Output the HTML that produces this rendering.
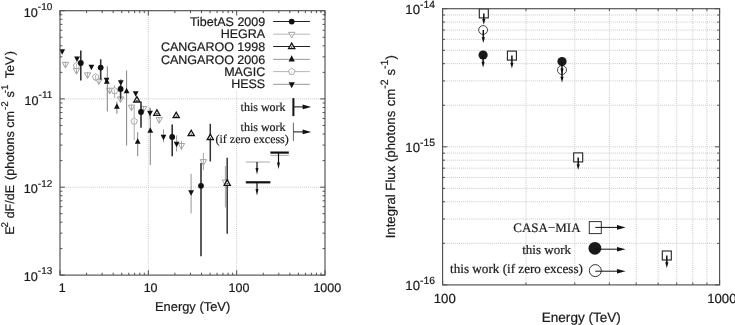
<!DOCTYPE html>
<html><head><meta charset="utf-8"><title>Flux plots</title>
<style>
html,body{margin:0;padding:0;background:#fff;}
body{width:735px;height:325px;overflow:hidden;}
svg{display:block;}
text{text-rendering:geometricPrecision;stroke:#1a1a1a;stroke-width:0.2px;}
</style></head><body>
<svg width="735" height="325" viewBox="0 0 735 325">
<rect x="0" y="0" width="735" height="325" fill="#fff"/>
<line x1="148.33" y1="10.70" x2="148.33" y2="275.10" stroke="#c8c8c8" stroke-width="1" stroke-dasharray="1 1.05"/>
<line x1="60.00" y1="98.90" x2="325.00" y2="98.90" stroke="#c8c8c8" stroke-width="1" stroke-dasharray="1 1.05"/>
<line x1="236.67" y1="10.70" x2="236.67" y2="275.10" stroke="#c8c8c8" stroke-width="1" stroke-dasharray="1 1.05"/>
<line x1="60.00" y1="187.20" x2="325.00" y2="187.20" stroke="#c8c8c8" stroke-width="1" stroke-dasharray="1 1.05"/>
<line x1="525.99" y1="8.70" x2="525.99" y2="284.90" stroke="#c8c8c8" stroke-width="1" stroke-dasharray="1 1.05"/>
<line x1="574.76" y1="8.70" x2="574.76" y2="284.90" stroke="#c8c8c8" stroke-width="1" stroke-dasharray="1 1.05"/>
<line x1="609.37" y1="8.70" x2="609.37" y2="284.90" stroke="#c8c8c8" stroke-width="1" stroke-dasharray="1 1.05"/>
<line x1="636.21" y1="8.70" x2="636.21" y2="284.90" stroke="#c8c8c8" stroke-width="1" stroke-dasharray="1 1.05"/>
<line x1="658.15" y1="8.70" x2="658.15" y2="284.90" stroke="#c8c8c8" stroke-width="1" stroke-dasharray="1 1.05"/>
<line x1="676.69" y1="8.70" x2="676.69" y2="284.90" stroke="#c8c8c8" stroke-width="1" stroke-dasharray="1 1.05"/>
<line x1="692.76" y1="8.70" x2="692.76" y2="284.90" stroke="#c8c8c8" stroke-width="1" stroke-dasharray="1 1.05"/>
<line x1="706.93" y1="8.70" x2="706.93" y2="284.90" stroke="#c8c8c8" stroke-width="1" stroke-dasharray="1 1.05"/>
<line x1="442.60" y1="146.80" x2="719.60" y2="146.80" stroke="#c8c8c8" stroke-width="1" stroke-dasharray="1 1.05"/>
<line x1="442.60" y1="105.23" x2="719.60" y2="105.23" stroke="#c8c8c8" stroke-width="1" stroke-dasharray="1 1.05"/>
<line x1="442.60" y1="80.91" x2="719.60" y2="80.91" stroke="#c8c8c8" stroke-width="1" stroke-dasharray="1 1.05"/>
<line x1="442.60" y1="63.66" x2="719.60" y2="63.66" stroke="#c8c8c8" stroke-width="1" stroke-dasharray="1 1.05"/>
<line x1="442.60" y1="50.27" x2="719.60" y2="50.27" stroke="#c8c8c8" stroke-width="1" stroke-dasharray="1 1.05"/>
<line x1="442.60" y1="39.34" x2="719.60" y2="39.34" stroke="#c8c8c8" stroke-width="1" stroke-dasharray="1 1.05"/>
<line x1="442.60" y1="30.09" x2="719.60" y2="30.09" stroke="#c8c8c8" stroke-width="1" stroke-dasharray="1 1.05"/>
<line x1="442.60" y1="22.08" x2="719.60" y2="22.08" stroke="#c8c8c8" stroke-width="1" stroke-dasharray="1 1.05"/>
<line x1="442.60" y1="15.02" x2="719.60" y2="15.02" stroke="#c8c8c8" stroke-width="1" stroke-dasharray="1 1.05"/>
<line x1="442.60" y1="243.33" x2="719.60" y2="243.33" stroke="#c8c8c8" stroke-width="1" stroke-dasharray="1 1.05"/>
<line x1="442.60" y1="219.01" x2="719.60" y2="219.01" stroke="#c8c8c8" stroke-width="1" stroke-dasharray="1 1.05"/>
<line x1="442.60" y1="201.76" x2="719.60" y2="201.76" stroke="#c8c8c8" stroke-width="1" stroke-dasharray="1 1.05"/>
<line x1="442.60" y1="188.37" x2="719.60" y2="188.37" stroke="#c8c8c8" stroke-width="1" stroke-dasharray="1 1.05"/>
<line x1="442.60" y1="177.44" x2="719.60" y2="177.44" stroke="#c8c8c8" stroke-width="1" stroke-dasharray="1 1.05"/>
<line x1="442.60" y1="168.19" x2="719.60" y2="168.19" stroke="#c8c8c8" stroke-width="1" stroke-dasharray="1 1.05"/>
<line x1="442.60" y1="160.18" x2="719.60" y2="160.18" stroke="#c8c8c8" stroke-width="1" stroke-dasharray="1 1.05"/>
<line x1="442.60" y1="153.12" x2="719.60" y2="153.12" stroke="#c8c8c8" stroke-width="1" stroke-dasharray="1 1.05"/>
<rect x="168" y="11" width="156" height="79.8" fill="#fff"/>
<g>
<polygon points="62.30,62.33 68.70,62.33 65.50,67.93" fill="#fff" stroke="#9a9a9a" stroke-width="0.9" stroke-linejoin="miter"/>
<line x1="65.50" y1="61.80" x2="65.50" y2="67.40" stroke="#9a9a9a" stroke-width="0.8" />
<polygon points="73.30,68.53 79.70,68.53 76.50,74.13" fill="#fff" stroke="#9a9a9a" stroke-width="0.9" stroke-linejoin="miter"/>
<line x1="76.50" y1="68.00" x2="76.50" y2="73.60" stroke="#9a9a9a" stroke-width="0.8" />
<polygon points="84.40,72.83 90.80,72.83 87.60,78.43" fill="#fff" stroke="#9a9a9a" stroke-width="0.9" stroke-linejoin="miter"/>
<line x1="87.60" y1="72.30" x2="87.60" y2="77.90" stroke="#9a9a9a" stroke-width="0.8" />
<polygon points="95.70,78.93 102.10,78.93 98.90,84.53" fill="#fff" stroke="#9a9a9a" stroke-width="0.9" stroke-linejoin="miter"/>
<line x1="98.90" y1="78.40" x2="98.90" y2="84.00" stroke="#9a9a9a" stroke-width="0.8" />
<polygon points="106.50,88.23 112.90,88.23 109.70,93.83" fill="#fff" stroke="#9a9a9a" stroke-width="0.9" stroke-linejoin="miter"/>
<line x1="109.70" y1="87.70" x2="109.70" y2="93.30" stroke="#9a9a9a" stroke-width="0.8" />
<polygon points="117.30,96.93 123.70,96.93 120.50,102.53" fill="#fff" stroke="#9a9a9a" stroke-width="0.9" stroke-linejoin="miter"/>
<line x1="120.50" y1="96.40" x2="120.50" y2="102.00" stroke="#9a9a9a" stroke-width="0.8" />
<polygon points="128.30,105.13 134.70,105.13 131.50,110.73" fill="#fff" stroke="#9a9a9a" stroke-width="0.9" stroke-linejoin="miter"/>
<line x1="131.50" y1="104.60" x2="131.50" y2="110.20" stroke="#9a9a9a" stroke-width="0.8" />
<polygon points="140.40,106.43 146.80,106.43 143.60,112.03" fill="#fff" stroke="#9a9a9a" stroke-width="0.9" stroke-linejoin="miter"/>
<line x1="143.60" y1="105.90" x2="143.60" y2="111.50" stroke="#9a9a9a" stroke-width="0.8" />
<polygon points="156.00,117.63 162.40,117.63 159.20,123.23" fill="#fff" stroke="#9a9a9a" stroke-width="0.9" stroke-linejoin="miter"/>
<line x1="159.20" y1="117.10" x2="159.20" y2="122.70" stroke="#9a9a9a" stroke-width="0.8" />
<line x1="181.50" y1="140.80" x2="181.50" y2="150.00" stroke="#9a9a9a" stroke-width="0.9" />
<polygon points="178.30,143.53 184.70,143.53 181.50,149.13" fill="#fff" stroke="#9a9a9a" stroke-width="0.9" stroke-linejoin="miter"/>
<line x1="181.50" y1="143.00" x2="181.50" y2="148.60" stroke="#9a9a9a" stroke-width="0.8" />
<line x1="203.40" y1="153.00" x2="203.40" y2="170.00" stroke="#9a9a9a" stroke-width="0.9" />
<polygon points="200.20,159.63 206.60,159.63 203.40,165.23" fill="#fff" stroke="#9a9a9a" stroke-width="0.9" stroke-linejoin="miter"/>
<line x1="203.40" y1="159.10" x2="203.40" y2="164.70" stroke="#9a9a9a" stroke-width="0.8" />
<line x1="225.40" y1="166.00" x2="225.40" y2="207.40" stroke="#9a9a9a" stroke-width="0.9" />
<polygon points="222.20,179.93 228.60,179.93 225.40,185.53" fill="#fff" stroke="#9a9a9a" stroke-width="0.9" stroke-linejoin="miter"/>
<line x1="225.40" y1="179.40" x2="225.40" y2="185.00" stroke="#9a9a9a" stroke-width="0.8" />
<line x1="76.50" y1="62.50" x2="76.50" y2="69.00" stroke="#a0a0a0" stroke-width="0.9" />
<polygon points="76.50,62.40 79.73,64.75 78.50,68.55 74.50,68.55 73.27,64.75" fill="#fff" stroke="#a0a0a0" stroke-width="0.9"/>
<line x1="76.50" y1="63.80" x2="76.50" y2="67.80" stroke="#a0a0a0" stroke-width="0.7" />
<line x1="95.60" y1="74.00" x2="95.60" y2="81.00" stroke="#a0a0a0" stroke-width="0.9" />
<polygon points="95.60,73.60 98.83,75.95 97.60,79.75 93.60,79.75 92.37,75.95" fill="#fff" stroke="#a0a0a0" stroke-width="0.9"/>
<line x1="95.60" y1="75.00" x2="95.60" y2="79.00" stroke="#a0a0a0" stroke-width="0.7" />
<line x1="114.60" y1="85.20" x2="114.60" y2="98.00" stroke="#a0a0a0" stroke-width="0.9" />
<polygon points="114.60,87.40 117.83,89.75 116.60,93.55 112.60,93.55 111.37,89.75" fill="#fff" stroke="#a0a0a0" stroke-width="0.9"/>
<line x1="114.60" y1="88.80" x2="114.60" y2="92.80" stroke="#a0a0a0" stroke-width="0.7" />
<line x1="134.20" y1="107.00" x2="134.20" y2="140.00" stroke="#a0a0a0" stroke-width="0.9" />
<polygon points="134.20,117.80 137.43,120.15 136.20,123.95 132.20,123.95 130.97,120.15" fill="#fff" stroke="#a0a0a0" stroke-width="0.9"/>
<line x1="134.20" y1="119.20" x2="134.20" y2="123.20" stroke="#a0a0a0" stroke-width="0.7" />
<line x1="107.30" y1="66.30" x2="107.30" y2="111.50" stroke="#747474" stroke-width="0.9" />
<polygon points="103.90,83.83 109.70,83.83 106.80,78.33" fill="#111" stroke="none" stroke-width="1" stroke-linejoin="miter"/>
<line x1="126.60" y1="70.50" x2="126.60" y2="145.50" stroke="#747474" stroke-width="0.9" />
<polygon points="123.70,93.33 129.50,93.33 126.60,87.83" fill="#111" stroke="none" stroke-width="1" stroke-linejoin="miter"/>
<line x1="116.90" y1="101.50" x2="116.90" y2="113.80" stroke="#747474" stroke-width="0.9" />
<polygon points="114.00,108.63 119.80,108.63 116.90,103.13" fill="#111" stroke="none" stroke-width="1" stroke-linejoin="miter"/>
<line x1="137.70" y1="132.30" x2="137.70" y2="156.20" stroke="#747474" stroke-width="0.9" />
<polygon points="134.80,143.63 140.60,143.63 137.70,138.13" fill="#111" stroke="none" stroke-width="1" stroke-linejoin="miter"/>
<line x1="150.30" y1="108.00" x2="150.30" y2="165.00" stroke="#747474" stroke-width="0.9" />
<polygon points="147.40,132.63 153.20,132.63 150.30,127.13" fill="#111" stroke="none" stroke-width="1" stroke-linejoin="miter"/>
<polygon points="59.30,49.37 65.10,49.37 62.20,54.87" fill="#111" stroke="none" stroke-width="1" stroke-linejoin="miter"/>
<polygon points="74.10,56.57 79.90,56.57 77.00,62.07" fill="#111" stroke="none" stroke-width="1" stroke-linejoin="miter"/>
<polygon points="88.50,64.77 94.30,64.77 91.40,70.27" fill="#111" stroke="none" stroke-width="1" stroke-linejoin="miter"/>
<polygon points="103.70,77.67 109.50,77.67 106.60,83.17" fill="#111" stroke="none" stroke-width="1" stroke-linejoin="miter"/>
<line x1="120.80" y1="79.00" x2="120.80" y2="85.60" stroke="#8c8c8c" stroke-width="0.9" />
<polygon points="117.90,80.37 123.70,80.37 120.80,85.87" fill="#111" stroke="none" stroke-width="1" stroke-linejoin="miter"/>
<polygon points="132.80,91.17 138.60,91.17 135.70,96.67" fill="#111" stroke="none" stroke-width="1" stroke-linejoin="miter"/>
<line x1="150.00" y1="107.50" x2="150.00" y2="118.50" stroke="#8c8c8c" stroke-width="0.9" />
<polygon points="147.10,110.77 152.90,110.77 150.00,116.27" fill="#111" stroke="none" stroke-width="1" stroke-linejoin="miter"/>
<line x1="163.50" y1="129.20" x2="163.50" y2="142.30" stroke="#8c8c8c" stroke-width="0.9" />
<polygon points="160.60,134.77 166.40,134.77 163.50,140.27" fill="#111" stroke="none" stroke-width="1" stroke-linejoin="miter"/>
<line x1="176.60" y1="135.40" x2="176.60" y2="151.50" stroke="#8c8c8c" stroke-width="0.9" />
<polygon points="173.70,141.67 179.50,141.67 176.60,147.17" fill="#111" stroke="none" stroke-width="1" stroke-linejoin="miter"/>
<line x1="191.10" y1="173.80" x2="191.10" y2="213.50" stroke="#8c8c8c" stroke-width="0.9" />
<polygon points="188.20,190.17 194.00,190.17 191.10,195.67" fill="#111" stroke="none" stroke-width="1" stroke-linejoin="miter"/>
<polygon points="133.80,102.00 140.00,102.00 136.90,96.60" fill="#fff" stroke="#111" stroke-width="1.3" stroke-linejoin="miter"/>
<circle cx="136.90" cy="100.50" r="0.7" fill="#111" stroke="none" stroke-width="1"/>
<polygon points="153.80,115.30 160.00,115.30 156.90,109.90" fill="#fff" stroke="#111" stroke-width="1.3" stroke-linejoin="miter"/>
<circle cx="156.90" cy="113.80" r="0.7" fill="#111" stroke="none" stroke-width="1"/>
<polygon points="173.10,117.70 179.30,117.70 176.20,112.30" fill="#fff" stroke="#111" stroke-width="1.3" stroke-linejoin="miter"/>
<circle cx="176.20" cy="116.20" r="0.7" fill="#111" stroke="none" stroke-width="1"/>
<polygon points="188.10,135.60 194.30,135.60 191.20,130.20" fill="#fff" stroke="#111" stroke-width="1.3" stroke-linejoin="miter"/>
<circle cx="191.20" cy="134.10" r="0.7" fill="#111" stroke="none" stroke-width="1"/>
<line x1="210.30" y1="123.80" x2="210.30" y2="161.50" stroke="#333" stroke-width="1.5" />
<polygon points="207.20,139.70 213.40,139.70 210.30,134.30" fill="#fff" stroke="#111" stroke-width="1.3" stroke-linejoin="miter"/>
<circle cx="210.30" cy="138.20" r="0.7" fill="#111" stroke="none" stroke-width="1"/>
<line x1="227.20" y1="157.70" x2="227.20" y2="233.80" stroke="#333" stroke-width="1.5" />
<polygon points="224.10,185.30 230.30,185.30 227.20,179.90" fill="#fff" stroke="#111" stroke-width="1.3" stroke-linejoin="miter"/>
<circle cx="227.20" cy="183.80" r="0.7" fill="#111" stroke="none" stroke-width="1"/>
<line x1="80.80" y1="50.40" x2="80.80" y2="80.40" stroke="#333" stroke-width="1.6" />
<circle cx="80.80" cy="63.00" r="2.9" fill="#111" stroke="none" stroke-width="1"/>
<line x1="100.70" y1="59.30" x2="100.70" y2="79.70" stroke="#333" stroke-width="1.6" />
<circle cx="100.70" cy="67.60" r="2.9" fill="#111" stroke="none" stroke-width="1"/>
<line x1="120.60" y1="85.00" x2="120.60" y2="99.20" stroke="#333" stroke-width="1.6" />
<circle cx="120.60" cy="89.00" r="2.9" fill="#111" stroke="none" stroke-width="1"/>
<line x1="141.00" y1="101.50" x2="141.00" y2="127.70" stroke="#333" stroke-width="1.6" />
<circle cx="141.00" cy="112.00" r="2.9" fill="#111" stroke="none" stroke-width="1"/>
<line x1="172.20" y1="124.60" x2="172.20" y2="156.20" stroke="#333" stroke-width="1.6" />
<circle cx="172.20" cy="136.90" r="2.9" fill="#111" stroke="none" stroke-width="1"/>
<line x1="201.00" y1="163.00" x2="201.00" y2="256.20" stroke="#333" stroke-width="1.6" />
<circle cx="201.00" cy="185.80" r="2.9" fill="#111" stroke="none" stroke-width="1"/>
</g>
<line x1="270.40" y1="155.40" x2="288.80" y2="155.40" stroke="#aaa" stroke-width="1" />
<line x1="270.40" y1="152.60" x2="288.80" y2="152.60" stroke="#111" stroke-width="2.2" />
<line x1="278.50" y1="152.60" x2="278.50" y2="163.50" stroke="#111" stroke-width="1.2" />
<polygon points="277.00,162.50 280.00,162.50 278.50,169.00" fill="#111"/>
<line x1="245.80" y1="162.00" x2="270.00" y2="162.00" stroke="#aaa" stroke-width="1" />
<line x1="257.00" y1="162.00" x2="257.00" y2="169.10" stroke="#111" stroke-width="1.2" />
<polygon points="255.50,168.10 258.50,168.10 257.00,174.60" fill="#111"/>
<line x1="245.80" y1="182.30" x2="270.40" y2="182.30" stroke="#111" stroke-width="2.2" />
<line x1="257.00" y1="182.30" x2="257.00" y2="189.90" stroke="#111" stroke-width="1.2" />
<polygon points="255.50,188.90 258.50,188.90 257.00,195.40" fill="#111"/>
<text x="265.2" y="25.6" text-anchor="end" font-family='"Liberation Sans", Arial, Helvetica, sans-serif' font-size="12.5" fill="#1a1a1a">TibetAS 2009</text>
<text x="265.2" y="38.3" text-anchor="end" font-family='"Liberation Sans", Arial, Helvetica, sans-serif' font-size="12.5" fill="#1a1a1a">HEGRA</text>
<text x="265.2" y="50.6" text-anchor="end" font-family='"Liberation Sans", Arial, Helvetica, sans-serif' font-size="12.5" fill="#1a1a1a">CANGAROO 1998</text>
<text x="265.2" y="63.5" text-anchor="end" font-family='"Liberation Sans", Arial, Helvetica, sans-serif' font-size="12.5" fill="#1a1a1a">CANGAROO 2006</text>
<text x="265.2" y="75.7" text-anchor="end" font-family='"Liberation Sans", Arial, Helvetica, sans-serif' font-size="12.5" fill="#1a1a1a">MAGIC</text>
<text x="265.2" y="88.4" text-anchor="end" font-family='"Liberation Sans", Arial, Helvetica, sans-serif' font-size="12.5" fill="#1a1a1a">HESS</text>
<line x1="273.20" y1="21.55" x2="309.90" y2="21.55" stroke="#222" stroke-width="1.1" />
<circle cx="291.70" cy="21.55" r="2.9" fill="#111" stroke="none" stroke-width="1"/>
<line x1="273.20" y1="34.20" x2="309.90" y2="34.20" stroke="#b8b8b8" stroke-width="1" />
<polygon points="288.50,32.33 294.90,32.33 291.70,37.93" fill="#fff" stroke="#9a9a9a" stroke-width="0.9" stroke-linejoin="miter"/>
<circle cx="291.70" cy="34.50" r="0.6" fill="#9a9a9a" stroke="none" stroke-width="1"/>
<line x1="273.20" y1="46.45" x2="309.90" y2="46.45" stroke="#222" stroke-width="1.1" />
<polygon points="288.60,48.55 294.80,48.55 291.70,43.15" fill="#fff" stroke="#111" stroke-width="1.3" stroke-linejoin="miter"/>
<circle cx="291.70" cy="47.05" r="0.7" fill="#111" stroke="none" stroke-width="1"/>
<line x1="273.20" y1="59.35" x2="309.90" y2="59.35" stroke="#8a8a8a" stroke-width="0.9" />
<polygon points="288.60,61.38 294.80,61.38 291.70,55.28" fill="#111" stroke="none" stroke-width="1" stroke-linejoin="miter"/>
<line x1="273.20" y1="71.60" x2="309.90" y2="71.60" stroke="#b8b8b8" stroke-width="1" />
<polygon points="291.70,68.20 294.93,70.55 293.70,74.35 289.70,74.35 288.47,70.55" fill="#fff" stroke="#a0a0a0" stroke-width="0.9"/>
<circle cx="291.70" cy="72.00" r="0.6" fill="#a0a0a0" stroke="none" stroke-width="1"/>
<line x1="273.20" y1="84.30" x2="309.90" y2="84.30" stroke="#8a8a8a" stroke-width="0.9" />
<polygon points="288.60,82.27 294.80,82.27 291.70,88.37" fill="#111" stroke="none" stroke-width="1" stroke-linejoin="miter"/>
<text x="285.6" y="110.7" text-anchor="end" font-family='"Liberation Serif", "Times New Roman", serif' font-size="12" fill="#1a1a1a">this work</text>
<line x1="293.40" y1="98.20" x2="293.40" y2="116.10" stroke="#111" stroke-width="2" />
<line x1="293.40" y1="106.90" x2="303.60" y2="106.90" stroke="#111" stroke-width="1.0" />
<polygon points="302.60,104.60 302.60,109.20 311.20,106.90" fill="#111"/>
<text x="285.6" y="130.5" text-anchor="end" font-family='"Liberation Serif", "Times New Roman", serif' font-size="12" fill="#1a1a1a">this work</text>
<text x="288.8" y="142.8" text-anchor="end" font-family='"Liberation Serif", "Times New Roman", serif' font-size="12" fill="#1a1a1a">(if zero excess)</text>
<line x1="293.40" y1="122.70" x2="293.40" y2="141.00" stroke="#666" stroke-width="1" />
<line x1="293.40" y1="131.90" x2="303.60" y2="131.90" stroke="#111" stroke-width="1.0" />
<polygon points="302.60,129.60 302.60,134.20 311.20,131.90" fill="#111"/>
<rect x="479.30" y="8.90" width="9.0" height="9.0" fill="#fff" stroke="#222" stroke-width="1.1"/>
<line x1="483.80" y1="13.40" x2="483.80" y2="20.00" stroke="#111" stroke-width="1.5" />
<polygon points="482.20,19.00 485.40,19.00 483.80,24.80" fill="#111"/>
<circle cx="483.10" cy="30.00" r="4.4" fill="#fff" stroke="#333" stroke-width="0.9"/>
<line x1="483.30" y1="30.00" x2="483.30" y2="38.20" stroke="#111" stroke-width="1.5" />
<polygon points="481.70,37.20 484.90,37.20 483.30,43.00" fill="#111"/>
<circle cx="483.10" cy="55.00" r="4.6" fill="#1a1a1a" stroke="none" stroke-width="1"/>
<line x1="483.10" y1="55.00" x2="483.10" y2="62.80" stroke="#111" stroke-width="1.5" />
<polygon points="481.50,61.80 484.70,61.80 483.10,67.60" fill="#111"/>
<rect x="507.40" y="51.10" width="9.0" height="9.0" fill="#fff" stroke="#222" stroke-width="1.1"/>
<line x1="511.90" y1="55.60" x2="511.90" y2="63.70" stroke="#111" stroke-width="1.5" />
<polygon points="510.30,62.70 513.50,62.70 511.90,68.50" fill="#111"/>
<circle cx="562.00" cy="70.00" r="4.5" fill="#fff" stroke="#333" stroke-width="0.9"/>
<circle cx="562.00" cy="61.50" r="4.6" fill="#1a1a1a" stroke="none" stroke-width="1"/>
<line x1="562.00" y1="61.50" x2="562.00" y2="69.50" stroke="#111" stroke-width="1.5" />
<polygon points="560.40,68.50 563.60,68.50 562.00,74.30" fill="#111"/>
<line x1="562.00" y1="70.00" x2="562.00" y2="77.80" stroke="#111" stroke-width="1.5" />
<polygon points="560.40,76.80 563.60,76.80 562.00,82.60" fill="#111"/>
<rect x="573.70" y="152.90" width="9.0" height="9.0" fill="#fff" stroke="#222" stroke-width="1.1"/>
<line x1="578.20" y1="157.40" x2="578.20" y2="165.20" stroke="#111" stroke-width="1.5" />
<polygon points="576.60,164.20 579.80,164.20 578.20,170.00" fill="#111"/>
<rect x="662.30" y="251.00" width="9.0" height="9.0" fill="#fff" stroke="#222" stroke-width="1.1"/>
<line x1="666.80" y1="255.50" x2="666.80" y2="263.30" stroke="#111" stroke-width="1.5" />
<polygon points="665.20,262.30 668.40,262.30 666.80,268.10" fill="#111"/>
<text x="580.6" y="232.2" text-anchor="end" font-family='"Liberation Serif", "Times New Roman", serif' font-size="13" fill="#1a1a1a">CASA−MIA</text>
<text x="571" y="253.8" text-anchor="end" font-family='"Liberation Serif", "Times New Roman", serif' font-size="13" fill="#1a1a1a">this work</text>
<text x="582.9" y="273.2" text-anchor="end" font-family='"Liberation Serif", "Times New Roman", serif' font-size="13.15" fill="#1a1a1a">this work (if zero excess)</text>
<rect x="589.30" y="221.60" width="12.0" height="12.0" fill="#fff" stroke="#333" stroke-width="1.0"/>
<line x1="595.30" y1="227.40" x2="618.00" y2="227.40" stroke="#111" stroke-width="1.0" />
<polygon points="617.00,225.10 617.00,229.70 625.60,227.40" fill="#111"/>
<circle cx="594.90" cy="248.30" r="6.4" fill="#1a1a1a" stroke="none" stroke-width="1"/>
<line x1="595.00" y1="249.20" x2="618.00" y2="249.20" stroke="#111" stroke-width="1.0" />
<polygon points="617.00,246.90 617.00,251.50 625.60,249.20" fill="#111"/>
<circle cx="595.30" cy="270.60" r="6.0" fill="#fff" stroke="#333" stroke-width="1.0"/>
<line x1="595.30" y1="271.20" x2="618.00" y2="271.20" stroke="#111" stroke-width="1.0" />
<polygon points="617.00,268.90 617.00,273.50 625.60,271.20" fill="#111"/>
<rect x="60.00" y="10.70" width="265.00" height="264.40" fill="none" stroke="#505050" stroke-width="1.15"/>
<rect x="442.60" y="8.70" width="277.00" height="276.20" fill="none" stroke="#505050" stroke-width="1.15"/>
<line x1="60.00" y1="275.10" x2="60.00" y2="270.30" stroke="#505050" stroke-width="1" />
<line x1="60.00" y1="10.70" x2="60.00" y2="15.50" stroke="#505050" stroke-width="1" />
<line x1="60.00" y1="275.10" x2="64.80" y2="275.10" stroke="#505050" stroke-width="1" />
<line x1="325.00" y1="275.10" x2="320.20" y2="275.10" stroke="#505050" stroke-width="1" />
<line x1="86.59" y1="275.10" x2="86.59" y2="272.70" stroke="#505050" stroke-width="1" />
<line x1="86.59" y1="10.70" x2="86.59" y2="13.10" stroke="#505050" stroke-width="1" />
<line x1="60.00" y1="248.64" x2="62.40" y2="248.64" stroke="#505050" stroke-width="1" />
<line x1="325.00" y1="248.64" x2="322.60" y2="248.64" stroke="#505050" stroke-width="1" />
<line x1="102.15" y1="275.10" x2="102.15" y2="272.70" stroke="#505050" stroke-width="1" />
<line x1="102.15" y1="10.70" x2="102.15" y2="13.10" stroke="#505050" stroke-width="1" />
<line x1="60.00" y1="233.16" x2="62.40" y2="233.16" stroke="#505050" stroke-width="1" />
<line x1="325.00" y1="233.16" x2="322.60" y2="233.16" stroke="#505050" stroke-width="1" />
<line x1="113.18" y1="275.10" x2="113.18" y2="272.70" stroke="#505050" stroke-width="1" />
<line x1="113.18" y1="10.70" x2="113.18" y2="13.10" stroke="#505050" stroke-width="1" />
<line x1="60.00" y1="222.18" x2="62.40" y2="222.18" stroke="#505050" stroke-width="1" />
<line x1="325.00" y1="222.18" x2="322.60" y2="222.18" stroke="#505050" stroke-width="1" />
<line x1="121.74" y1="275.10" x2="121.74" y2="272.70" stroke="#505050" stroke-width="1" />
<line x1="121.74" y1="10.70" x2="121.74" y2="13.10" stroke="#505050" stroke-width="1" />
<line x1="60.00" y1="213.66" x2="62.40" y2="213.66" stroke="#505050" stroke-width="1" />
<line x1="325.00" y1="213.66" x2="322.60" y2="213.66" stroke="#505050" stroke-width="1" />
<line x1="128.74" y1="275.10" x2="128.74" y2="272.70" stroke="#505050" stroke-width="1" />
<line x1="128.74" y1="10.70" x2="128.74" y2="13.10" stroke="#505050" stroke-width="1" />
<line x1="60.00" y1="206.70" x2="62.40" y2="206.70" stroke="#505050" stroke-width="1" />
<line x1="325.00" y1="206.70" x2="322.60" y2="206.70" stroke="#505050" stroke-width="1" />
<line x1="134.65" y1="275.10" x2="134.65" y2="272.70" stroke="#505050" stroke-width="1" />
<line x1="134.65" y1="10.70" x2="134.65" y2="13.10" stroke="#505050" stroke-width="1" />
<line x1="60.00" y1="200.82" x2="62.40" y2="200.82" stroke="#505050" stroke-width="1" />
<line x1="325.00" y1="200.82" x2="322.60" y2="200.82" stroke="#505050" stroke-width="1" />
<line x1="139.77" y1="275.10" x2="139.77" y2="272.70" stroke="#505050" stroke-width="1" />
<line x1="139.77" y1="10.70" x2="139.77" y2="13.10" stroke="#505050" stroke-width="1" />
<line x1="60.00" y1="195.72" x2="62.40" y2="195.72" stroke="#505050" stroke-width="1" />
<line x1="325.00" y1="195.72" x2="322.60" y2="195.72" stroke="#505050" stroke-width="1" />
<line x1="144.29" y1="275.10" x2="144.29" y2="272.70" stroke="#505050" stroke-width="1" />
<line x1="144.29" y1="10.70" x2="144.29" y2="13.10" stroke="#505050" stroke-width="1" />
<line x1="60.00" y1="191.22" x2="62.40" y2="191.22" stroke="#505050" stroke-width="1" />
<line x1="325.00" y1="191.22" x2="322.60" y2="191.22" stroke="#505050" stroke-width="1" />
<line x1="148.33" y1="275.10" x2="148.33" y2="270.30" stroke="#505050" stroke-width="1" />
<line x1="148.33" y1="10.70" x2="148.33" y2="15.50" stroke="#505050" stroke-width="1" />
<line x1="60.00" y1="187.20" x2="64.80" y2="187.20" stroke="#505050" stroke-width="1" />
<line x1="325.00" y1="187.20" x2="320.20" y2="187.20" stroke="#505050" stroke-width="1" />
<line x1="174.92" y1="275.10" x2="174.92" y2="272.70" stroke="#505050" stroke-width="1" />
<line x1="174.92" y1="10.70" x2="174.92" y2="13.10" stroke="#505050" stroke-width="1" />
<line x1="60.00" y1="160.62" x2="62.40" y2="160.62" stroke="#505050" stroke-width="1" />
<line x1="325.00" y1="160.62" x2="322.60" y2="160.62" stroke="#505050" stroke-width="1" />
<line x1="190.48" y1="275.10" x2="190.48" y2="272.70" stroke="#505050" stroke-width="1" />
<line x1="190.48" y1="10.70" x2="190.48" y2="13.10" stroke="#505050" stroke-width="1" />
<line x1="60.00" y1="145.07" x2="62.40" y2="145.07" stroke="#505050" stroke-width="1" />
<line x1="325.00" y1="145.07" x2="322.60" y2="145.07" stroke="#505050" stroke-width="1" />
<line x1="201.52" y1="275.10" x2="201.52" y2="272.70" stroke="#505050" stroke-width="1" />
<line x1="201.52" y1="10.70" x2="201.52" y2="13.10" stroke="#505050" stroke-width="1" />
<line x1="60.00" y1="134.04" x2="62.40" y2="134.04" stroke="#505050" stroke-width="1" />
<line x1="325.00" y1="134.04" x2="322.60" y2="134.04" stroke="#505050" stroke-width="1" />
<line x1="210.08" y1="275.10" x2="210.08" y2="272.70" stroke="#505050" stroke-width="1" />
<line x1="210.08" y1="10.70" x2="210.08" y2="13.10" stroke="#505050" stroke-width="1" />
<line x1="60.00" y1="125.48" x2="62.40" y2="125.48" stroke="#505050" stroke-width="1" />
<line x1="325.00" y1="125.48" x2="322.60" y2="125.48" stroke="#505050" stroke-width="1" />
<line x1="217.07" y1="275.10" x2="217.07" y2="272.70" stroke="#505050" stroke-width="1" />
<line x1="217.07" y1="10.70" x2="217.07" y2="13.10" stroke="#505050" stroke-width="1" />
<line x1="60.00" y1="118.49" x2="62.40" y2="118.49" stroke="#505050" stroke-width="1" />
<line x1="325.00" y1="118.49" x2="322.60" y2="118.49" stroke="#505050" stroke-width="1" />
<line x1="222.98" y1="275.10" x2="222.98" y2="272.70" stroke="#505050" stroke-width="1" />
<line x1="222.98" y1="10.70" x2="222.98" y2="13.10" stroke="#505050" stroke-width="1" />
<line x1="60.00" y1="112.58" x2="62.40" y2="112.58" stroke="#505050" stroke-width="1" />
<line x1="325.00" y1="112.58" x2="322.60" y2="112.58" stroke="#505050" stroke-width="1" />
<line x1="228.11" y1="275.10" x2="228.11" y2="272.70" stroke="#505050" stroke-width="1" />
<line x1="228.11" y1="10.70" x2="228.11" y2="13.10" stroke="#505050" stroke-width="1" />
<line x1="60.00" y1="107.46" x2="62.40" y2="107.46" stroke="#505050" stroke-width="1" />
<line x1="325.00" y1="107.46" x2="322.60" y2="107.46" stroke="#505050" stroke-width="1" />
<line x1="232.62" y1="275.10" x2="232.62" y2="272.70" stroke="#505050" stroke-width="1" />
<line x1="232.62" y1="10.70" x2="232.62" y2="13.10" stroke="#505050" stroke-width="1" />
<line x1="60.00" y1="102.94" x2="62.40" y2="102.94" stroke="#505050" stroke-width="1" />
<line x1="325.00" y1="102.94" x2="322.60" y2="102.94" stroke="#505050" stroke-width="1" />
<line x1="236.67" y1="275.10" x2="236.67" y2="270.30" stroke="#505050" stroke-width="1" />
<line x1="236.67" y1="10.70" x2="236.67" y2="15.50" stroke="#505050" stroke-width="1" />
<line x1="60.00" y1="98.90" x2="64.80" y2="98.90" stroke="#505050" stroke-width="1" />
<line x1="325.00" y1="98.90" x2="320.20" y2="98.90" stroke="#505050" stroke-width="1" />
<line x1="263.26" y1="275.10" x2="263.26" y2="272.70" stroke="#505050" stroke-width="1" />
<line x1="263.26" y1="10.70" x2="263.26" y2="13.10" stroke="#505050" stroke-width="1" />
<line x1="60.00" y1="72.35" x2="62.40" y2="72.35" stroke="#505050" stroke-width="1" />
<line x1="325.00" y1="72.35" x2="322.60" y2="72.35" stroke="#505050" stroke-width="1" />
<line x1="278.81" y1="275.10" x2="278.81" y2="272.70" stroke="#505050" stroke-width="1" />
<line x1="278.81" y1="10.70" x2="278.81" y2="13.10" stroke="#505050" stroke-width="1" />
<line x1="60.00" y1="56.82" x2="62.40" y2="56.82" stroke="#505050" stroke-width="1" />
<line x1="325.00" y1="56.82" x2="322.60" y2="56.82" stroke="#505050" stroke-width="1" />
<line x1="289.85" y1="275.10" x2="289.85" y2="272.70" stroke="#505050" stroke-width="1" />
<line x1="289.85" y1="10.70" x2="289.85" y2="13.10" stroke="#505050" stroke-width="1" />
<line x1="60.00" y1="45.80" x2="62.40" y2="45.80" stroke="#505050" stroke-width="1" />
<line x1="325.00" y1="45.80" x2="322.60" y2="45.80" stroke="#505050" stroke-width="1" />
<line x1="298.41" y1="275.10" x2="298.41" y2="272.70" stroke="#505050" stroke-width="1" />
<line x1="298.41" y1="10.70" x2="298.41" y2="13.10" stroke="#505050" stroke-width="1" />
<line x1="60.00" y1="37.25" x2="62.40" y2="37.25" stroke="#505050" stroke-width="1" />
<line x1="325.00" y1="37.25" x2="322.60" y2="37.25" stroke="#505050" stroke-width="1" />
<line x1="305.40" y1="275.10" x2="305.40" y2="272.70" stroke="#505050" stroke-width="1" />
<line x1="305.40" y1="10.70" x2="305.40" y2="13.10" stroke="#505050" stroke-width="1" />
<line x1="60.00" y1="30.27" x2="62.40" y2="30.27" stroke="#505050" stroke-width="1" />
<line x1="325.00" y1="30.27" x2="322.60" y2="30.27" stroke="#505050" stroke-width="1" />
<line x1="311.32" y1="275.10" x2="311.32" y2="272.70" stroke="#505050" stroke-width="1" />
<line x1="311.32" y1="10.70" x2="311.32" y2="13.10" stroke="#505050" stroke-width="1" />
<line x1="60.00" y1="24.36" x2="62.40" y2="24.36" stroke="#505050" stroke-width="1" />
<line x1="325.00" y1="24.36" x2="322.60" y2="24.36" stroke="#505050" stroke-width="1" />
<line x1="316.44" y1="275.10" x2="316.44" y2="272.70" stroke="#505050" stroke-width="1" />
<line x1="316.44" y1="10.70" x2="316.44" y2="13.10" stroke="#505050" stroke-width="1" />
<line x1="60.00" y1="19.25" x2="62.40" y2="19.25" stroke="#505050" stroke-width="1" />
<line x1="325.00" y1="19.25" x2="322.60" y2="19.25" stroke="#505050" stroke-width="1" />
<line x1="320.96" y1="275.10" x2="320.96" y2="272.70" stroke="#505050" stroke-width="1" />
<line x1="320.96" y1="10.70" x2="320.96" y2="13.10" stroke="#505050" stroke-width="1" />
<line x1="60.00" y1="14.74" x2="62.40" y2="14.74" stroke="#505050" stroke-width="1" />
<line x1="325.00" y1="14.74" x2="322.60" y2="14.74" stroke="#505050" stroke-width="1" />
<line x1="325.00" y1="275.10" x2="325.00" y2="270.30" stroke="#505050" stroke-width="1" />
<line x1="325.00" y1="10.70" x2="325.00" y2="15.50" stroke="#505050" stroke-width="1" />
<line x1="60.00" y1="10.70" x2="64.80" y2="10.70" stroke="#505050" stroke-width="1" />
<line x1="325.00" y1="10.70" x2="320.20" y2="10.70" stroke="#505050" stroke-width="1" />
<line x1="442.60" y1="284.90" x2="442.60" y2="280.10" stroke="#505050" stroke-width="1" />
<line x1="442.60" y1="8.70" x2="442.60" y2="13.50" stroke="#505050" stroke-width="1" />
<line x1="525.99" y1="284.90" x2="525.99" y2="282.50" stroke="#505050" stroke-width="1" />
<line x1="525.99" y1="8.70" x2="525.99" y2="11.10" stroke="#505050" stroke-width="1" />
<line x1="574.76" y1="284.90" x2="574.76" y2="282.50" stroke="#505050" stroke-width="1" />
<line x1="574.76" y1="8.70" x2="574.76" y2="11.10" stroke="#505050" stroke-width="1" />
<line x1="609.37" y1="284.90" x2="609.37" y2="282.50" stroke="#505050" stroke-width="1" />
<line x1="609.37" y1="8.70" x2="609.37" y2="11.10" stroke="#505050" stroke-width="1" />
<line x1="636.21" y1="284.90" x2="636.21" y2="282.50" stroke="#505050" stroke-width="1" />
<line x1="636.21" y1="8.70" x2="636.21" y2="11.10" stroke="#505050" stroke-width="1" />
<line x1="658.15" y1="284.90" x2="658.15" y2="282.50" stroke="#505050" stroke-width="1" />
<line x1="658.15" y1="8.70" x2="658.15" y2="11.10" stroke="#505050" stroke-width="1" />
<line x1="676.69" y1="284.90" x2="676.69" y2="282.50" stroke="#505050" stroke-width="1" />
<line x1="676.69" y1="8.70" x2="676.69" y2="11.10" stroke="#505050" stroke-width="1" />
<line x1="692.76" y1="284.90" x2="692.76" y2="282.50" stroke="#505050" stroke-width="1" />
<line x1="692.76" y1="8.70" x2="692.76" y2="11.10" stroke="#505050" stroke-width="1" />
<line x1="706.93" y1="284.90" x2="706.93" y2="282.50" stroke="#505050" stroke-width="1" />
<line x1="706.93" y1="8.70" x2="706.93" y2="11.10" stroke="#505050" stroke-width="1" />
<line x1="719.60" y1="284.90" x2="719.60" y2="280.10" stroke="#505050" stroke-width="1" />
<line x1="719.60" y1="8.70" x2="719.60" y2="13.50" stroke="#505050" stroke-width="1" />
<line x1="442.60" y1="284.90" x2="447.40" y2="284.90" stroke="#505050" stroke-width="1" />
<line x1="719.60" y1="284.90" x2="714.80" y2="284.90" stroke="#505050" stroke-width="1" />
<line x1="442.60" y1="243.33" x2="445.00" y2="243.33" stroke="#505050" stroke-width="1" />
<line x1="719.60" y1="243.33" x2="717.20" y2="243.33" stroke="#505050" stroke-width="1" />
<line x1="442.60" y1="219.01" x2="445.00" y2="219.01" stroke="#505050" stroke-width="1" />
<line x1="719.60" y1="219.01" x2="717.20" y2="219.01" stroke="#505050" stroke-width="1" />
<line x1="442.60" y1="201.76" x2="445.00" y2="201.76" stroke="#505050" stroke-width="1" />
<line x1="719.60" y1="201.76" x2="717.20" y2="201.76" stroke="#505050" stroke-width="1" />
<line x1="442.60" y1="188.37" x2="445.00" y2="188.37" stroke="#505050" stroke-width="1" />
<line x1="719.60" y1="188.37" x2="717.20" y2="188.37" stroke="#505050" stroke-width="1" />
<line x1="442.60" y1="177.44" x2="445.00" y2="177.44" stroke="#505050" stroke-width="1" />
<line x1="719.60" y1="177.44" x2="717.20" y2="177.44" stroke="#505050" stroke-width="1" />
<line x1="442.60" y1="168.19" x2="445.00" y2="168.19" stroke="#505050" stroke-width="1" />
<line x1="719.60" y1="168.19" x2="717.20" y2="168.19" stroke="#505050" stroke-width="1" />
<line x1="442.60" y1="160.18" x2="445.00" y2="160.18" stroke="#505050" stroke-width="1" />
<line x1="719.60" y1="160.18" x2="717.20" y2="160.18" stroke="#505050" stroke-width="1" />
<line x1="442.60" y1="153.12" x2="445.00" y2="153.12" stroke="#505050" stroke-width="1" />
<line x1="719.60" y1="153.12" x2="717.20" y2="153.12" stroke="#505050" stroke-width="1" />
<line x1="442.60" y1="146.80" x2="447.40" y2="146.80" stroke="#505050" stroke-width="1" />
<line x1="719.60" y1="146.80" x2="714.80" y2="146.80" stroke="#505050" stroke-width="1" />
<line x1="442.60" y1="105.23" x2="445.00" y2="105.23" stroke="#505050" stroke-width="1" />
<line x1="719.60" y1="105.23" x2="717.20" y2="105.23" stroke="#505050" stroke-width="1" />
<line x1="442.60" y1="80.91" x2="445.00" y2="80.91" stroke="#505050" stroke-width="1" />
<line x1="719.60" y1="80.91" x2="717.20" y2="80.91" stroke="#505050" stroke-width="1" />
<line x1="442.60" y1="63.66" x2="445.00" y2="63.66" stroke="#505050" stroke-width="1" />
<line x1="719.60" y1="63.66" x2="717.20" y2="63.66" stroke="#505050" stroke-width="1" />
<line x1="442.60" y1="50.27" x2="445.00" y2="50.27" stroke="#505050" stroke-width="1" />
<line x1="719.60" y1="50.27" x2="717.20" y2="50.27" stroke="#505050" stroke-width="1" />
<line x1="442.60" y1="39.34" x2="445.00" y2="39.34" stroke="#505050" stroke-width="1" />
<line x1="719.60" y1="39.34" x2="717.20" y2="39.34" stroke="#505050" stroke-width="1" />
<line x1="442.60" y1="30.09" x2="445.00" y2="30.09" stroke="#505050" stroke-width="1" />
<line x1="719.60" y1="30.09" x2="717.20" y2="30.09" stroke="#505050" stroke-width="1" />
<line x1="442.60" y1="22.08" x2="445.00" y2="22.08" stroke="#505050" stroke-width="1" />
<line x1="719.60" y1="22.08" x2="717.20" y2="22.08" stroke="#505050" stroke-width="1" />
<line x1="442.60" y1="15.02" x2="445.00" y2="15.02" stroke="#505050" stroke-width="1" />
<line x1="719.60" y1="15.02" x2="717.20" y2="15.02" stroke="#505050" stroke-width="1" />
<line x1="442.60" y1="8.70" x2="447.40" y2="8.70" stroke="#505050" stroke-width="1" />
<line x1="719.60" y1="8.70" x2="714.80" y2="8.70" stroke="#505050" stroke-width="1" />
<text x="52.3" y="16.5" text-anchor="end" font-family='"Liberation Sans", Arial, Helvetica, sans-serif' font-size="12.6" fill="#1a1a1a">10<tspan font-size="10" dy="-6.5">-10</tspan></text>
<text x="52.3" y="104.7" text-anchor="end" font-family='"Liberation Sans", Arial, Helvetica, sans-serif' font-size="12.6" fill="#1a1a1a">10<tspan font-size="10" dy="-6.5">-11</tspan></text>
<text x="52.3" y="193.0" text-anchor="end" font-family='"Liberation Sans", Arial, Helvetica, sans-serif' font-size="12.6" fill="#1a1a1a">10<tspan font-size="10" dy="-6.5">-12</tspan></text>
<text x="52.3" y="280.9" text-anchor="end" font-family='"Liberation Sans", Arial, Helvetica, sans-serif' font-size="12.6" fill="#1a1a1a">10<tspan font-size="10" dy="-6.5">-13</tspan></text>
<text x="435.0" y="14.2" text-anchor="end" font-family='"Liberation Sans", Arial, Helvetica, sans-serif' font-size="13.2" fill="#1a1a1a">10<tspan font-size="10.4" dy="-6.7">-14</tspan></text>
<text x="435.0" y="152.3" text-anchor="end" font-family='"Liberation Sans", Arial, Helvetica, sans-serif' font-size="13.2" fill="#1a1a1a">10<tspan font-size="10.4" dy="-6.7">-15</tspan></text>
<text x="435.0" y="290.4" text-anchor="end" font-family='"Liberation Sans", Arial, Helvetica, sans-serif' font-size="13.2" fill="#1a1a1a">10<tspan font-size="10.4" dy="-6.7">-16</tspan></text>
<text x="62.3" y="292.3" text-anchor="middle" font-family='"Liberation Sans", Arial, Helvetica, sans-serif' font-size="12.5" fill="#1a1a1a">1</text>
<text x="150.6" y="292.3" text-anchor="middle" font-family='"Liberation Sans", Arial, Helvetica, sans-serif' font-size="12.5" fill="#1a1a1a">10</text>
<text x="239.0" y="292.3" text-anchor="middle" font-family='"Liberation Sans", Arial, Helvetica, sans-serif' font-size="12.5" fill="#1a1a1a">100</text>
<text x="327.3" y="292.3" text-anchor="middle" font-family='"Liberation Sans", Arial, Helvetica, sans-serif' font-size="12.5" fill="#1a1a1a">1000</text>
<text x="444.8" y="302.5" text-anchor="middle" font-family='"Liberation Sans", Arial, Helvetica, sans-serif' font-size="13.2" fill="#1a1a1a">100</text>
<text x="721.8" y="302.5" text-anchor="middle" font-family='"Liberation Sans", Arial, Helvetica, sans-serif' font-size="13.2" fill="#1a1a1a">1000</text>
<text x="192.6" y="311" text-anchor="middle" font-family='"Liberation Sans", Arial, Helvetica, sans-serif' font-size="12.9" fill="#1a1a1a">Energy (TeV)</text>
<text x="581.3" y="322.2" text-anchor="middle" font-family='"Liberation Sans", Arial, Helvetica, sans-serif' font-size="13.55" fill="#1a1a1a">Energy (TeV)</text>
<text transform="translate(13.8,234.7) rotate(-90)" font-family='"Liberation Sans", Arial, Helvetica, sans-serif' font-size="12.5" fill="#1a1a1a">E<tspan font-size="9.8" dy="-6.2" dx="-1.2">2</tspan><tspan dy="6.2" dx="0.3"> dF/dE</tspan><tspan dx="1.6"> (photons cm</tspan><tspan font-size="9.8" dy="-6.2" dx="1.1">-2</tspan><tspan dy="6.2" dx="0.4"> s</tspan><tspan font-size="9.8" dy="-6.2" dx="-2.1">-1</tspan><tspan dy="6.2" dx="3.1"> TeV</tspan><tspan dx="1.4">)</tspan></text>
<text transform="translate(394.7,238.3) rotate(-90)" font-family='"Liberation Sans", Arial, Helvetica, sans-serif' font-size="13.2" fill="#1a1a1a">Integral Flux (photons<tspan dx="0.8"> cm</tspan><tspan font-size="10.6" dy="-6.8">-2</tspan><tspan dy="6.8"> s</tspan><tspan font-size="10.6" dy="-6.8">-1</tspan><tspan dy="6.8">)</tspan></text>
</svg>
</body></html>
